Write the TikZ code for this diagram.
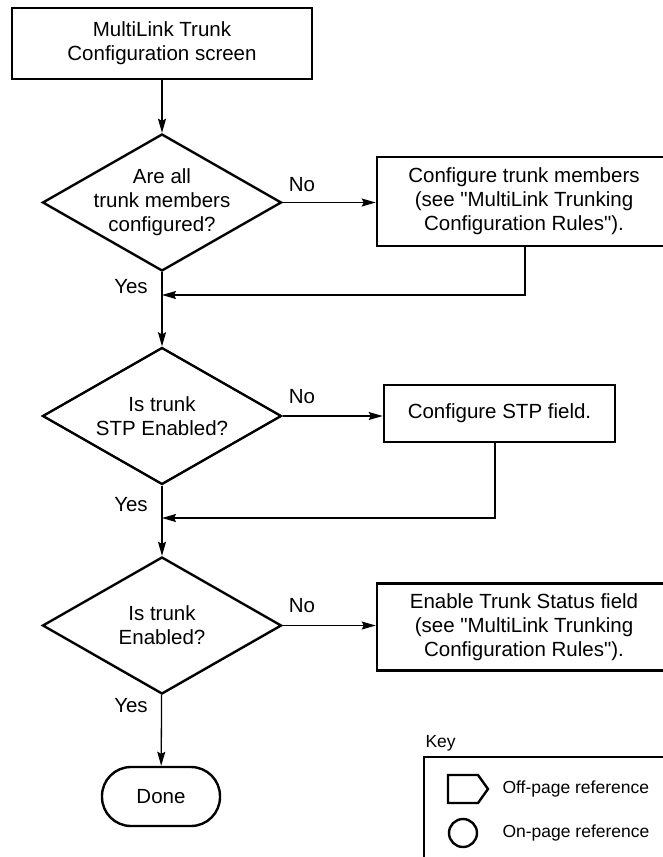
\documentclass[tikz,border=0pt]{standalone}
\usepackage{fontspec}
\setmainfont{Liberation Sans}[Ligatures=TeXOff]
\usetikzlibrary{arrows.meta,positioning,shapes.geometric}

\begin{document}
\begin{tikzpicture}[x=1pt,y=-1pt,>={Stealth[length=14pt,width=8pt,inset=2pt]},
  font=\fontsize{20.5}{24}\selectfont,
  box/.style={draw,line width=2.6pt,align=center,minimum height=87pt,inner sep=0pt},
  ask/.style={draw,diamond,line width=2.4pt,align=center,aspect=1.75,minimum width=239pt,minimum height=137pt,inner sep=-4pt},
  flow/.style={->,line width=1.3pt},
  keytext/.style={anchor=west,font=\fontsize{17.5}{21}\selectfont}]
\path[use as bounding box,clip] (0,0) rectangle (663,857);

\node[box,minimum width=300pt,minimum height=71pt] (scr) at (162,43.5) {MultiLink Trunk\\Configuration screen};
\node[ask] (q1) at (162,202.5) {Are all\\trunk members\\configured?};
\node[box,minimum width=294pt,minimum height=89pt] (fix1) at (524,201.5) {Configure trunk members\\(see "MultiLink Trunking\\Configuration Rules").};
\node[ask] (q2) at (162,416) {Is trunk\\STP Enabled?};
\node[box,minimum width=231pt,minimum height=57pt] (fix2) at (499.5,413.5) {Configure STP field.};
\node[ask] (q3) at (162,625.5) {Is trunk\\Enabled?};
\node[box,minimum width=294pt] (fix3) at (524,627) {Enable Trunk Status field\\(see "MultiLink Trunking\\Configuration Rules").};
\node[draw,line width=2.4pt,rounded corners=29pt,minimum width=118pt,minimum height=59pt] (done) at (161,796.5) {Done};

% main line
\draw[flow] (scr) -- (q1);
\draw[flow] (q1) -- (q2);
\draw[flow] (q2) -- (q3);
\draw[flow] (q3) -- (done);

% no branches
\draw[flow] (q1.east) -- (q1.east -| fix1.west);
\draw[flow] (q2.east) -- (q2.east -| fix2.west);
\draw[flow] (q3.east) -- (q3.east -| fix3.west);
\coordinate (back1) at (525,295);
\coordinate (back2) at (495,518);
\draw[flow] (back1 |- fix1.south) -- (back1) -- (back1 -| q1.south);
\draw[flow] (back2 |- fix2.south) -- (back2) -- (back2 -| q2.south);

\node (no1) at (302,185) {No};
\node (no2) at (302,397) {No};
\node (no3) at (302,606) {No};
\node (yes1) at (131,287) {Yes};
\node (yes2) at (131,505) {Yes};
\node (yes3) at (131,706) {Yes};

% key
\node[keytext] (key) at (422,743) {Key};
\draw[line width=1.3pt] (690,757) -| (424,880);
\draw[line width=2.4pt] (448,775) -- (478,775) -- (488,789) -- (478,803) -- (448,803) -- cycle;
\draw[line width=2.4pt] (463,833) circle[radius=14pt];
\node[keytext] (offp) at (499,789) {Off-page reference};
\node[keytext] (onp) at (499,833) {On-page reference};
\end{tikzpicture}
\end{document}
